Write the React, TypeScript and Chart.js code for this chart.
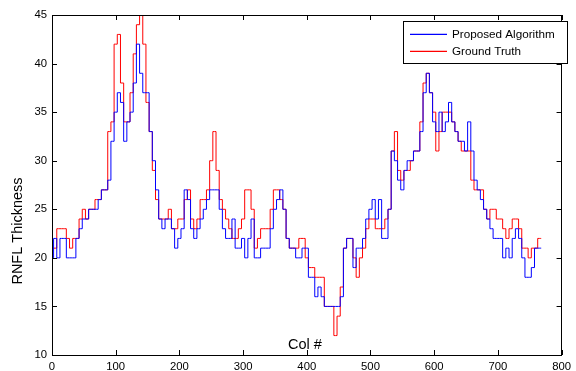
import React, { useEffect, useRef } from "react";
import { Chart, registerables } from "chart.js";

Chart.register(...registerables);

const cols = [
  0, 5, 10, 15, 20, 25, 30, 35, 40, 45, 50, 55, 60, 65, 70, 75, 80, 85, 90, 95,
  100, 105, 110, 115, 120, 125, 130, 135, 140, 145, 150, 155, 160, 165, 170, 175, 180, 185, 190, 195,
  200, 205, 210, 215, 220, 225, 230, 235, 240, 245, 250, 255, 260, 265, 270, 275, 280, 285, 290, 295,
  300, 305, 310, 315, 320, 325, 330, 335, 340, 345, 350, 355, 360, 365, 370, 375, 380, 385, 390, 395,
  400, 405, 410, 415, 420, 425, 430, 435, 440, 445, 450, 455, 460, 465, 470, 475, 480, 485, 490, 495,
  500, 505, 510, 515, 520, 525, 530, 535, 540, 545, 550, 555, 560, 565, 570, 575, 580, 585, 590, 595,
  600, 605, 610, 615, 620, 625, 630, 635, 640, 645, 650, 655, 660, 665, 670, 675, 680, 685, 690, 695,
  700, 705, 710, 715, 720, 725, 730, 735, 740, 745, 750, 755, 760, 765, 768,
];

const proposed = [
  20, 22, 20, 22, 22, 20, 20, 20, 22, 23, 24, 24, 25, 25, 25, 26, 27, 27, 28, 32,
  35, 37, 36, 32, 34, 35, 38, 42, 39, 37, 37, 33, 30, 27, 24, 23, 24, 24, 23, 21,
  22, 23, 27, 26, 23, 22, 23, 24, 25, 26, 27, 27, 27, 25, 23, 22, 22, 24, 21, 21,
  22, 20, 22, 24, 20, 20, 21, 21, 21, 23, 25, 26, 27, 25, 22, 21, 21, 20, 20, 21,
  21, 18, 18, 16, 17, 16, 15, 15, 15, 15, 15, 16, 21, 22, 22, 19, 21, 21, 22, 24,
  25, 26, 24, 26, 22, 22, 25, 31, 30, 28, 27, 29, 30, 30, 31, 31, 33, 37, 39, 37,
  34, 33, 35, 33, 34, 36, 34, 33, 32, 32, 31, 34, 31, 28, 27, 26, 25, 24, 23, 22,
  22, 22, 20, 21, 20, 22, 23, 22, 20, 18, 18, 19, 21, 21, 21,
];

const groundTruth = [
  21, 21, 23, 23, 23, 22, 21, 22, 22, 24, 25, 24, 25, 25, 26, 26, 27, 27, 33, 34,
  42, 43, 38, 34, 34, 37, 41, 44, 45, 42, 36, 33, 29, 26, 24, 24, 24, 25, 23, 23,
  24, 24, 26, 27, 24, 23, 24, 26, 26, 27, 30, 33, 29, 26, 25, 24, 23, 22, 22, 23,
  24, 27, 27, 25, 21, 22, 23, 23, 23, 25, 27, 27, 26, 25, 22, 21, 21, 21, 22, 22,
  20, 19, 19, 18, 18, 18, 15, 15, 15, 12, 14, 17, 21, 22, 22, 20, 18, 20, 21, 23,
  24, 24, 23, 23, 23, 24, 25, 31, 33, 29, 28, 29, 29, 30, 31, 31, 34, 38, 39, 37,
  35, 31, 33, 35, 35, 35, 34, 33, 32, 31, 31, 31, 28, 27, 27, 27, 25, 24, 25, 25,
  24, 24, 23, 22, 23, 24, 24, 23, 21, 21, 20, 21, 21, 22, 22,
];

const seriesNames = ["Proposed Algorithm", "Ground Truth"];
const seriesColors = ["#0000ff", "#ff0000"];
const xTitle = "Col #";
const yTitle = "RNFL Thickness";

const FONT = '"Liberation Sans", Arial, Helvetica, sans-serif';

const framePlugin = {
  id: "matlabFrame",
  afterDraw(chart: any) {
    const { ctx, chartArea } = chart;
    const { left, right, top, bottom } = chartArea;
    const xs = chart.scales.x;
    const ys = chart.scales.y;
    ctx.save();
    ctx.strokeStyle = "#000";
    ctx.lineWidth = 1;
    const tl = 5;
    ctx.beginPath();
    xs.ticks.forEach((t: any) => {
      const px = Math.round(xs.getPixelForValue(t.value)) + 0.5;
      ctx.moveTo(px, bottom);
      ctx.lineTo(px, bottom - tl);
      ctx.moveTo(px, top);
      ctx.lineTo(px, top + tl);
    });
    ys.ticks.forEach((t: any) => {
      const py = Math.round(ys.getPixelForValue(t.value)) + 0.5;
      ctx.moveTo(left, py);
      ctx.lineTo(left + tl, py);
      ctx.moveTo(right, py);
      ctx.lineTo(right - tl, py);
    });
    ctx.stroke();
    ctx.strokeRect(Math.round(left) + 0.5, Math.round(top) + 0.5, Math.round(right - left) - 1, Math.round(bottom - top));

    // axis titles
    ctx.fillStyle = "#000";
    ctx.font = `14.5px ${FONT}`;
    ctx.textAlign = "center";
    ctx.textBaseline = "alphabetic";
    ctx.fillText(xTitle, 305, bottom - 6);
    ctx.save();
    ctx.translate(22, 231);
    ctx.rotate(-Math.PI / 2);
    ctx.textBaseline = "alphabetic";
    ctx.fillText(yTitle, 0, 0);
    ctx.restore();

    // legend
    const lx = 403, ly = 21, lw = 164, lh = 42;
    ctx.fillStyle = "#fff";
    ctx.fillRect(lx, ly, lw, lh);
    ctx.strokeStyle = "#000";
    ctx.strokeRect(lx + 0.5, ly + 0.5, lw, lh);
    ctx.font = `11.7px ${FONT}`;
    ctx.textAlign = "left";
    ctx.textBaseline = "middle";
    seriesNames.forEach((name: string, i: number) => {
      const yy = Math.round(ly + 12.5 + i * 17);
      ctx.beginPath();
      ctx.strokeStyle = seriesColors[i];
      ctx.lineWidth = 1.3;
      ctx.moveTo(410, yy + 0.3);
      ctx.lineTo(447, yy + 0.3);
      ctx.stroke();
      ctx.fillStyle = "#000";
      ctx.fillText(name, 452, yy + 1);
    });
    ctx.restore();
  },
};

export default function App() {
  const ref = useRef<HTMLCanvasElement | null>(null);
  useEffect(() => {
    if (!ref.current) return;
    const mk = (vals: number[]) => cols.map((c, i) => ({ x: c, y: vals[i] }));
    const chart = new Chart(ref.current, {
      type: "line",
      data: {
        datasets: [
          {
            label: seriesNames[0],
            data: mk(proposed),
            borderColor: seriesColors[0],
            borderWidth: 1,
            pointRadius: 0,
            stepped: "middle",
            fill: false,
          },
          {
            label: seriesNames[1],
            data: mk(groundTruth),
            borderColor: seriesColors[1],
            borderWidth: 1,
            pointRadius: 0,
            stepped: "middle",
            fill: false,
          },
        ],
      },
      options: {
        animation: false,
        responsive: true,
        maintainAspectRatio: false,
        layout: { padding: { top: 15, right: 4, left: 0, bottom: 0 }, autoPadding: false },
        plugins: { legend: { display: false }, tooltip: { enabled: false } },
        scales: {
          x: {
            type: "linear",
            min: 0,
            max: 800,
            ticks: { stepSize: 100, color: "#000", font: { size: 11.3, family: FONT }, padding: 5, maxRotation: 0 },
            grid: { display: false, drawTicks: false },
            border: { display: false },
            afterFit: (s: any) => {
              s.height = 16;
            },
          },
          y: {
            type: "linear",
            min: 10,
            max: 45,
            ticks: { stepSize: 5, color: "#000", font: { size: 11.3, family: FONT }, padding: 5 },
            grid: { display: false, drawTicks: false },
            border: { display: false },
            afterFit: (s: any) => {
              s.width = 52;
            },
          },
        },
      },
      plugins: [framePlugin],
    });
    return () => chart.destroy();
  }, []);
  return (
    <div style={{ position: "fixed", left: 0, top: 0, width: 576, height: 371, background: "#fff" }}>
      <canvas ref={ref} />
    </div>
  );
}
